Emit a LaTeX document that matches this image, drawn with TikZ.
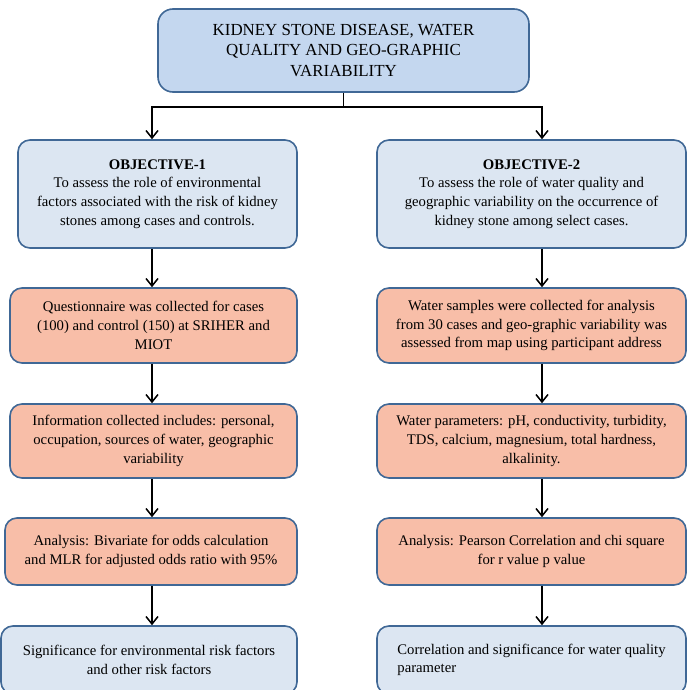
\documentclass[tikz,border=0pt]{standalone}
\usepackage{fontspec}
\setmainfont{Liberation Serif}
\usetikzlibrary{arrows.meta}

\definecolor{boxline}{RGB}{64,104,150}
\definecolor{titlefill}{RGB}{196,215,239}
\definecolor{objfill}{RGB}{220,230,242}
\definecolor{stepfill}{RGB}{248,190,168}

\tikzset{
  box/.style={draw=boxline, line width=1.6pt, rounded corners=12pt,
    align=center, inner sep=0pt,
    font=\fontsize{14.7}{18.7}\selectfont},
  titlebox/.style={box, fill=titlefill, rounded corners=15pt,
    font=\fontsize{16.9}{20.5}\selectfont},
  objbox/.style={box, fill=objfill},
  stepbox/.style={box, fill=stepfill},
  >={Straight Barb[length=7.5pt,width=12pt]}
}

\begin{document}
\begin{tikzpicture}[x=1pt, y=-1pt, line width=1.5pt]
      \useasboundingbox (0,0) rectangle (691,690);

      \node[titlebox, minimum width=371pt, minimum height=83pt] (KSD0) at (343.5,50.5)
        {KIDNEY STONE DISEASE, WATER\\ QUALITY AND GEO-GRAPHIC\\ VARIABILITY};
      \coordinate (SPL0) at (343.5,107);
      \coordinate (xL) at (152,0);
      \coordinate (xR) at (542,0);

      % objective 1 (left column)
      \node[objbox, minimum width=279pt, minimum height=108pt] (OBJ1) at (157.5,194)
        {\textbf{OBJECTIVE-1}\\ To assess the role of environmental\\
         factors associated with the risk of kidney\\ stones among cases and controls.};
      \node[stepbox, minimum width=287pt, minimum height=75pt] (QC1) at (153.5,325.5)
        {Questionnaire was collected for cases\\ (100) and control (150) at SRIHER and\\ MIOT};
      \node[stepbox, minimum width=287pt, minimum height=74pt] (IC1) at (153.5,441)
        {Information collected includes: personal,\\ occupation, sources of water, geographic\\ variability};
      \node[stepbox, minimum width=292pt, minimum height=67pt] (AN1) at (151,551.5)
        {Analysis: Bivariate for odds calculation\\ and MLR for adjusted odds ratio with 95\%};
      \node[objbox, minimum width=296pt, minimum height=68pt] (SIG1) at (149,660)
        {Significance for environmental risk factors\\ and other risk factors};

      % objective 2 (right column)
      \node[objbox, minimum width=309pt, minimum height=108pt] (OBJ2) at (531.5,194)
        {\textbf{OBJECTIVE-2}\\ To assess the role of water quality and\\
         geographic variability on the occurrence of\\ kidney stone among select cases.};
      \node[stepbox, minimum width=309pt, minimum height=75pt] (WS2) at (531.5,325.5)
        {Water samples were collected for analysis\\ from 30 cases and geo-graphic variability was\\ assessed from map using participant address};
      \node[stepbox, minimum width=309pt, minimum height=74pt] (WP2) at (531.5,441)
        {Water parameters: pH, conductivity, turbidity,\\ TDS, calcium, magnesium, total hardness,\\ alkalinity.};
      \node[stepbox, minimum width=309pt, minimum height=67pt] (AN2) at (531.5,551.5)
        {Analysis: Pearson Correlation and chi square\\ for r value p value};
      \node[objbox, align=left, minimum width=309pt, minimum height=68pt] (COR2) at (531.5,660)
        {Correlation and significance for water quality\\ parameter};

      \draw [->] (KSD0.south) to (SPL0) -| (xL |- OBJ1.north);
      \draw [->] (SPL0) -| (xR |- OBJ2.north);

      \draw [->] (OBJ1.south -| xL) to (QC1.north -| xL);
      \draw [->] (QC1.south -| xL)  to (IC1.north -| xL);
      \draw [->] (IC1.south -| xL)  to (AN1.north -| xL);
      \draw [->] (AN1.south -| xL)  to (SIG1.north -| xL);

      \draw [->] (OBJ2.south -| xR) to (WS2.north -| xR);
      \draw [->] (WS2.south -| xR)  to (WP2.north -| xR);
      \draw [->] (WP2.south -| xR)  to (AN2.north -| xR);
      \draw [->] (AN2.south -| xR)  to (COR2.north -| xR);
  \end{tikzpicture}
\end{document}
